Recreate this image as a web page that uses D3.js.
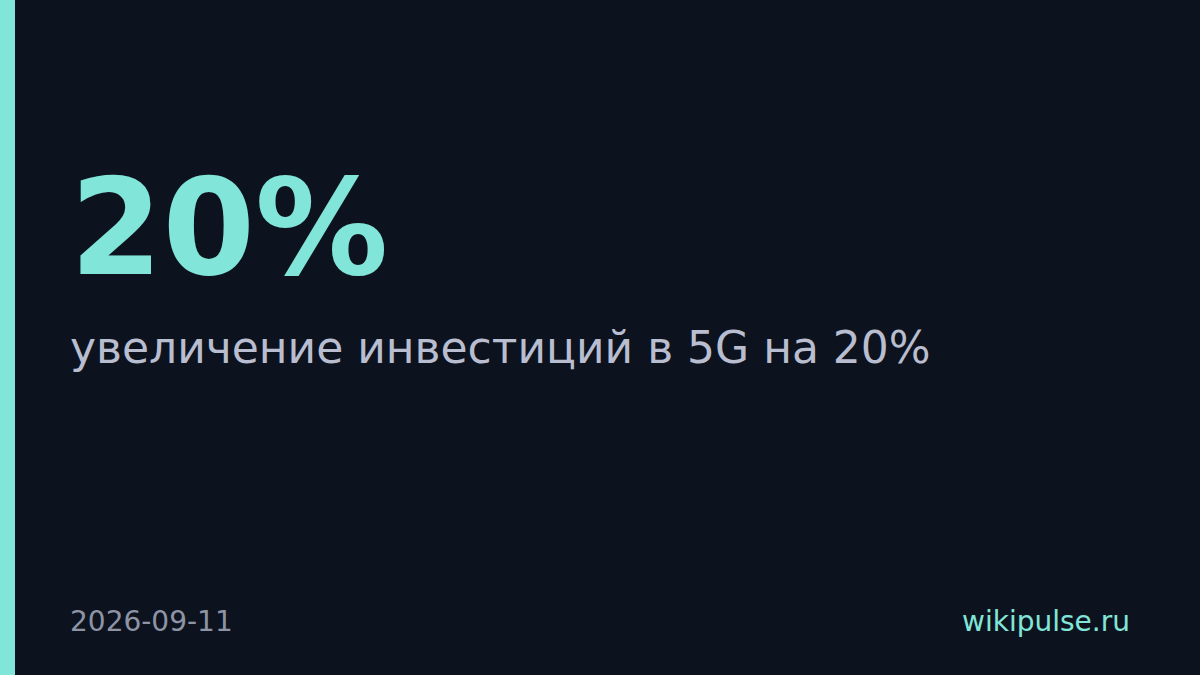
<!DOCTYPE html>
<html>
   <head>
      <meta charset="utf-8">
      <script type="text/javascript" src="https://d3js.org/d3.v7.min.js"></script>
      <style>
         body { margin: 0; background: #0d131e; }
      </style>
   </head>

   <body>
      <div id="container"></div>
      <script>
            var width = 1200;
            var height = 675;

            // card content
            var statValues = [20];
            var statUnits = ["%"];
            var captions = ["увеличение инвестиций в 5G на 20%"];
            var dates = ["2026-09-11"];
            var sources = ["wikipulse.ru"];

            var svg = d3.select("div#container").append("svg")
                .attr("width", width)
                .attr("height", height)
                .style("display", "block");

            svg.append("rect")
                .attr("width", width)
                .attr("height", height)
                .attr("fill", "#0d131e");

            // accent stripe on the left
            svg.append("rect")
                .attr("x", 0)
                .attr("y", 0)
                .attr("width", 15)
                .attr("height", height)
                .attr("fill", "#81e6d9");

            var font = "DejaVu Sans, sans-serif";

            svg.selectAll("text.stat")
                .data(statValues)
                .enter()
                .append("text")
                .attr("class", "stat")
                .attr("x", 70)
                .attr("y", 274)
                .attr("font-family", font)
                .attr("font-weight", "bold")
                .attr("font-size", 133)
                .attr("fill", "#81e6d9")
                .text(function (d, i) { return d + statUnits[i]; });

            svg.selectAll("text.caption")
                .data(captions)
                .enter()
                .append("text")
                .attr("class", "caption")
                .attr("x", 70)
                .attr("y", 363)
                .attr("font-family", font)
                .attr("font-size", 44)
                .attr("fill", "#b9bdd0")
                .text(function (d) { return d; });

            svg.selectAll("text.date")
                .data(dates)
                .enter()
                .append("text")
                .attr("class", "date")
                .attr("x", 70)
                .attr("y", 631)
                .attr("font-family", font)
                .attr("font-size", 28)
                .attr("fill", "#8e94a6")
                .text(function (d) { return d; });

            svg.selectAll("text.source")
                .data(sources)
                .enter()
                .append("text")
                .attr("class", "source")
                .attr("x", 1130)
                .attr("y", 631)
                .attr("text-anchor", "end")
                .attr("font-family", font)
                .attr("font-size", 28)
                .attr("fill", "#81e6d9")
                .text(function (d) { return d; });
      </script>
   </body>
</html>
